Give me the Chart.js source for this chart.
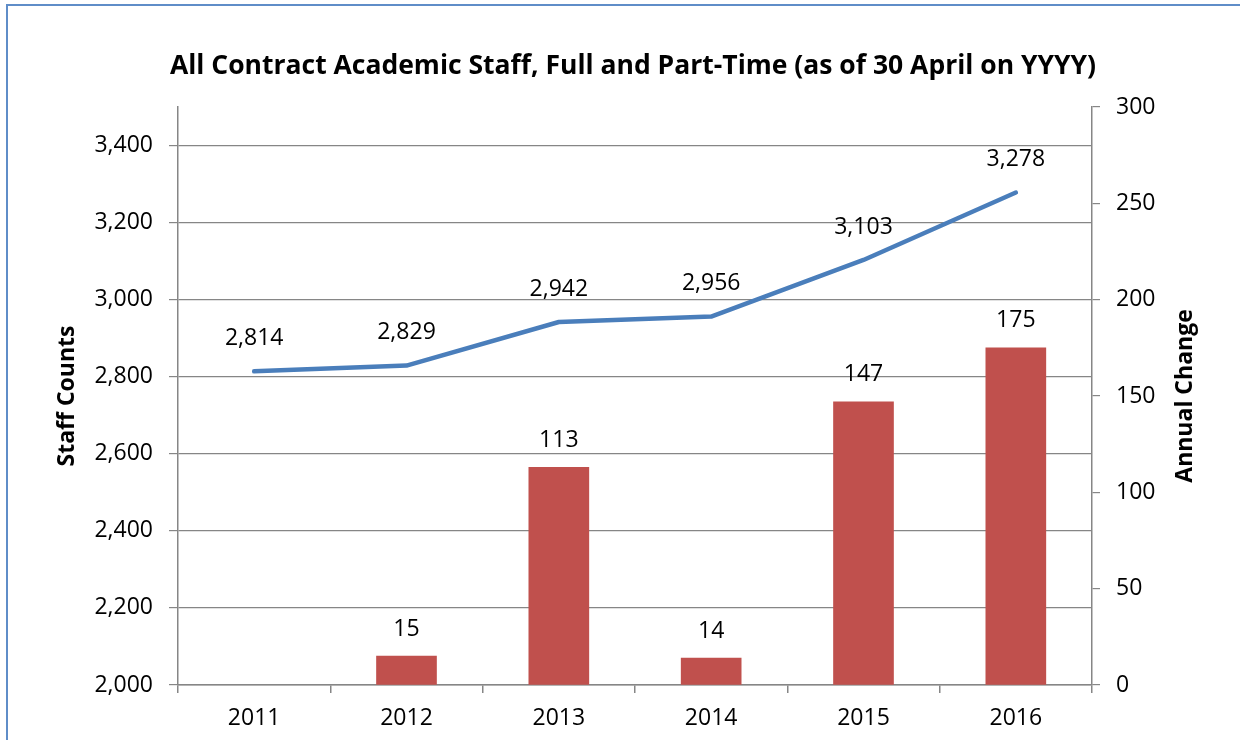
<!DOCTYPE html>
<html lang="en">
<head>
  <meta charset="UTF-8" />
  <title>All Contract Academic Staff</title>
  <script src="https://cdn.jsdelivr.net/npm/chart.js"></script>
  <style>
    html, body { margin: 0; padding: 0; background: #fff; overflow: hidden; }
    #wrap { position: relative; width: 1240px; height: 740px; }
    #frame { position: absolute; left: 6px; top: 4px; width: 1300px; height: 800px;
             border-left: 2px solid #5F8DC8; border-top: 2px solid #5F8DC8; }
    #chart { position: absolute; left: 0; top: 0; }
  </style>
</head>
<body>
  <div id="wrap">
    <div id="frame"></div>
    <canvas id="chart" width="1240" height="740"></canvas>
  </div>

  <script>
    // data
    const years = ['2011', '2012', '2013', '2014', '2015', '2016'];
    const staffCounts = [2814, 2829, 2942, 2956, 3103, 3278];
    const annualChange = [null, 15, 113, 14, 147, 175];
    const leftTicks = [2000, 2200, 2400, 2600, 2800, 3000, 3200, 3400];
    const rightTicks = [0, 50, 100, 150, 200, 250, 300];

    const chartTitle = 'All Contract Academic Staff, Full and Part-Time (as of 30 April on YYYY)';
    const FONT = "'Open Sans', 'DejaVu Sans', sans-serif";
    const GRID = '#868686';

    const fmt = v => Number(v).toLocaleString('en-US');

    // value labels above bars / line points, chart title, right axis title (reads bottom to top)
    const labelsPlugin = {
      id: 'valueLabels',
      afterDatasetsDraw(chart) {
        const ctx = chart.ctx;
        ctx.save();
        ctx.font = '23px ' + FONT;
        ctx.fillStyle = '#000';
        ctx.textAlign = 'center';
        ctx.textBaseline = 'middle';
        chart.data.datasets.forEach((ds, i) => {
          const meta = chart.getDatasetMeta(i);
          meta.data.forEach((el, j) => {
            const v = ds.data[j];
            if (v === null || v === undefined) return;
            const off = meta.type === 'line' ? 33 : 27;
            ctx.fillText(fmt(v), el.x, el.y - off);
          });
        });
        ctx.restore();
      },
      afterDraw(chart) {
        const ctx = chart.ctx;
        const area = chart.chartArea;
        ctx.save();
        ctx.fillStyle = '#000';
        ctx.textAlign = 'center';
        ctx.textBaseline = 'middle';
        ctx.font = 'bold 26.5px ' + FONT;
        ctx.fillText(chartTitle, 633, 66);
        ctx.font = 'bold 23px ' + FONT;
        ctx.translate(1185, (area.top + area.bottom) / 2);
        ctx.rotate(-Math.PI / 2);
        ctx.fillText('Annual Change', 0, 0);
        ctx.restore();
      }
    };

    new Chart(document.getElementById('chart'), {
      type: 'bar',
      data: {
        labels: years,
        datasets: [
          {
            type: 'line',
            label: 'Staff Counts',
            data: staffCounts,
            yAxisID: 'y',
            borderColor: '#4A7EBB',
            borderWidth: 4.5,
            borderCapStyle: 'round',
            borderJoinStyle: 'round',
            pointRadius: 0,
            tension: 0,
            order: 0
          },
          {
            type: 'bar',
            label: 'Annual Change',
            data: annualChange,
            yAxisID: 'y1',
            backgroundColor: '#C0504D',
            barThickness: 60,
            order: 1
          }
        ]
      },
      options: {
        responsive: false,
        animation: false,
        devicePixelRatio: 1,
        layout: { padding: { left: 0, right: 0, top: 107, bottom: 0 } },
        plugins: {
          legend: { display: false },
          tooltip: { enabled: false },
          title: { display: false }
        },
        scales: {
          x: {
            grid: { drawOnChartArea: false, drawTicks: true, tickLength: 8, color: GRID, lineWidth: 1.5 },
            border: { color: GRID, width: 1.5 },
            ticks: { color: '#000', font: { family: FONT, size: 23 }, padding: 12 },
            afterFit(scale) { scale.height = 55; }
          },
          y: {
            position: 'left',
            min: 2000,
            max: 3500,
            grid: { color: GRID, lineWidth: 1.2, tickLength: 9 },
            border: { color: GRID, width: 1.5 },
            ticks: { color: '#000', font: { family: FONT, size: 23 }, padding: 16, callback: v => fmt(v) },
            afterBuildTicks(scale) { scale.ticks = leftTicks.map(v => ({ value: v })); },
            title: {
              display: true,
              text: 'Staff Counts',
              color: '#000',
              font: { family: FONT, size: 23, weight: 'bold' },
              padding: { top: 54, bottom: 0 }
            },
            afterFit(scale) { scale.width = 178; }
          },
          y1: {
            position: 'right',
            min: 0,
            max: 300,
            grid: { drawOnChartArea: false, color: GRID, lineWidth: 1.2, tickLength: 8 },
            border: { color: GRID, width: 1.5 },
            ticks: { color: '#000', font: { family: FONT, size: 23 }, padding: 16 },
            afterBuildTicks(scale) { scale.ticks = rightTicks.map(v => ({ value: v })); },
            afterFit(scale) { scale.width = 148; }
          }
        }
      },
      plugins: [labelsPlugin]
    });
  </script>
</body>
</html>
